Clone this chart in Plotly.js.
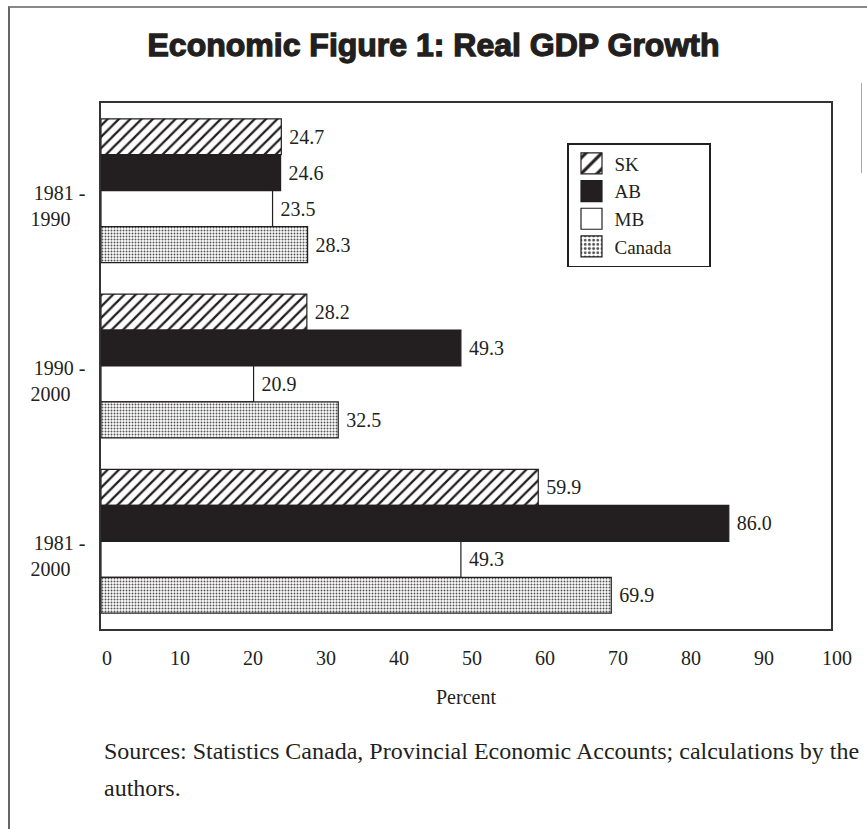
<!DOCTYPE html>
<html><head><meta charset="utf-8">
<script src="https://cdn.plot.ly/plotly-3.0.1.min.js"></script>
<style>
body{margin:0;background:#fff;}
#wrap{position:relative;width:867px;height:829px;overflow:hidden;background:#fff;}
#chart{position:absolute;left:0;top:0;width:867px;height:829px;}
#frame{position:absolute;left:8px;top:6px;width:900px;height:900px;border-left:2px solid #666;border-top:2px solid #888;pointer-events:none;}
#stray{position:absolute;left:861px;top:83px;width:1px;height:90px;background:#aaa;pointer-events:none;}
.gtitle{stroke:#231f20;stroke-width:1.3px;}
</style>
</head><body>
<div id="wrap"><div id="chart"></div><div id="frame"></div><div id="stray"></div></div>
<script>
const periods = ['1981 - 1990', '1990 - 2000', '1981 - 2000'];
const periodLabels = ['1981 -<br>1990\u00a0\u00a0\u00a0', '1990 -<br>2000\u00a0\u00a0\u00a0', '1981 -<br>2000\u00a0\u00a0\u00a0'];
const seriesNames = ['SK', 'AB', 'MB', 'Canada'];
const sk = [24.7, 28.2, 59.9];
const ab = [24.6, 49.3, 86.0];
const mb = [23.5, 20.9, 49.3];
const canada = [28.3, 32.5, 69.9];
const xTicks = [0, 10, 20, 30, 40, 50, 60, 70, 80, 90, 100];

const ink = '#231f20';
const serif = 'Liberation Serif, Times New Roman, serif';
const values = [sk, ab, mb, canada];
const markers = [
  {color: 'white', line: {color: ink, width: 1.2}, pattern: {shape: '/', fgcolor: ink, bgcolor: 'white', size: 8, solidity: 0.28}},
  {color: ink, line: {color: ink, width: 1.2}},
  {color: 'white', line: {color: ink, width: 1.2}},
  {color: 'white', line: {color: ink, width: 1.2}, pattern: {shape: '.', fgcolor: '#555', bgcolor: 'white', size: 3, solidity: 0.35}}
];

const traces = seriesNames.map((name, i) => ({
  type: 'bar',
  orientation: 'h',
  name: name,
  y: periods,
  x: values[i],
  marker: markers[i],
  texttemplate: '\u00a0%{x:.1f}',
  textposition: 'outside',
  textfont: {family: serif, size: 20, color: ink},
  cliponaxis: false,
  hoverinfo: 'skip'
}));

const layout = {
  width: 867, height: 829,
  margin: {l: 101, r: 36, t: 103, b: 200},
  paper_bgcolor: 'rgba(0,0,0,0)',
  plot_bgcolor: 'rgba(0,0,0,0)',
  barmode: 'group',
  bargap: 0.18,
  bargroupgap: 0,
  title: {
    text: 'Economic Figure 1: Real GDP Growth',
    font: {family: 'Liberation Sans, Arial, sans-serif', size: 32, color: ink, weight: 'bold'},
    x: 0.5, xanchor: 'center', y: 1 - 45/829, yanchor: 'middle'
  },
  xaxis: {
    range: [0, 100],
    tickvals: xTicks,
    ticks: '',
    showgrid: false,
    zeroline: false,
    showline: true, mirror: true, linecolor: '#333', linewidth: 1.6,
    tickfont: {family: serif, size: 20, color: ink},
    ticklabelstandoff: 10,
    ticklabelshift: 6,
    title: {text: 'Percent', font: {family: serif, size: 20, color: ink}, standoff: 22}
  },
  yaxis: {
    type: 'category',
    autorange: 'reversed',
    tickvals: periods,
    ticktext: periodLabels,
    ticks: '',
    showgrid: false,
    zeroline: false,
    showline: true, mirror: true, linecolor: '#333', linewidth: 1.6,
    tickfont: {family: serif, size: 20, color: ink},
    ticklabelstandoff: 10,
    ticklabelshift: -15
  },
  showlegend: true,
  legend: {
    x: (567-101)/730, xanchor: 'left',
    y: (629-143)/526, yanchor: 'top',
    bgcolor: 'white',
    bordercolor: ink, borderwidth: 1.5,
    font: {family: serif, size: 19, color: ink},
    traceorder: 'normal',
    itemwidth: 36
  },
  annotations: [
    {xref: 'paper', yref: 'paper', x: 0, xanchor: 'left', xshift: 1, y: (629-751)/526, yanchor: 'middle',
     text: 'Sources: Statistics Canada, Provincial Economic Accounts; calculations by the', showarrow: false,
     font: {family: serif, size: 24, color: ink}},
    {xref: 'paper', yref: 'paper', x: 0, xanchor: 'left', xshift: 1, y: (629-788)/526, yanchor: 'middle',
     text: 'authors.', showarrow: false,
     font: {family: serif, size: 24, color: ink}}
  ]
};

function styleLegend() {
  const gd = document.getElementById('chart');
  gd.querySelectorAll('g.legendpoints path').forEach(p => {
    const t = (p.getAttribute('transform') || '').replace(/\s*scale\([^)]*\)/, '');
    p.setAttribute('transform', t + ' scale(1.75)');
    p.setAttribute('vector-effect', 'non-scaling-stroke');
  });
  const bg = gd.querySelector('g.legend rect.bg');
  if (bg) bg.setAttribute('width', 142);
}

Plotly.newPlot('chart', traces, layout, {displayModeBar: false, staticPlot: true}).then(() => {
  styleLegend();
  setTimeout(styleLegend, 50);
});
</script>
</body></html>
